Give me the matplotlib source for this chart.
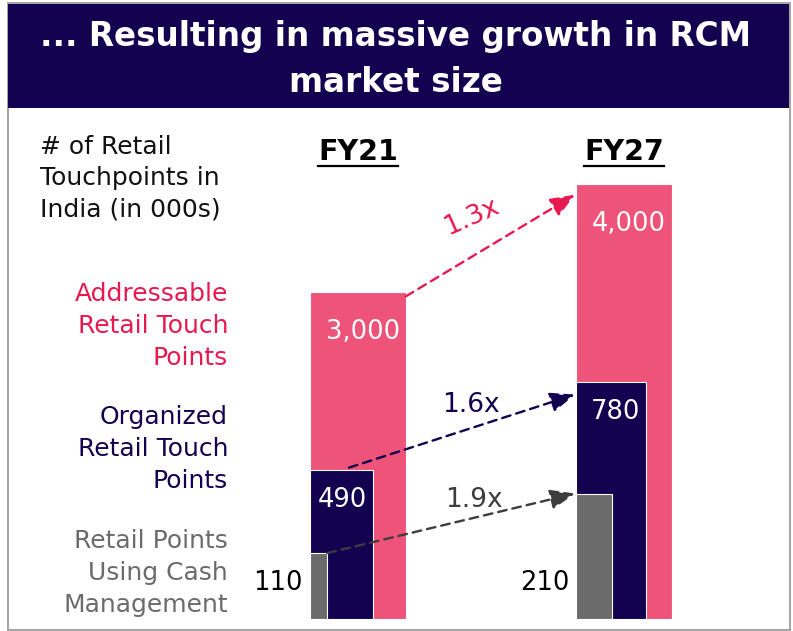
import matplotlib.pyplot as plt
from matplotlib.patches import Rectangle
from matplotlib.lines import Line2D
from matplotlib.transforms import ScaledTranslation

# data
years = ['FY21', 'FY27']
addressable = [3000, 4000]
organized = [490, 780]
cash_mgmt = [110, 210]
growth = ['1.3x', '1.6x', '1.9x']
series_names = ['Addressable\nRetail Touch\nPoints',
                'Organized\nRetail Touch\nPoints',
                'Retail Points\nUsing Cash\nManagement']

pink = '#EE5479'
red = '#E8194F'
navy = '#13024F'
grey = '#6B6B6B'
dark = '#3D3D3D'

W, H = 793, 631
plt.rcParams['font.family'] = ['DejaVu Sans']
fig = plt.figure(figsize=(W / 100, H / 100), dpi=100)


def fx(px):
    return px / W


def fy(py):
    return 1 - py / H


def shifted(a, dx, dy):
    # data coords moved by dx, dy pixels (dy downwards)
    return a.transData + ScaledTranslation(dx / 100, -dy / 100, fig.dpi_scale_trans)


# frame + title band
fig.add_artist(Rectangle((fx(7.5), fy(630)), fx(789.5) - fx(7.5), fy(3) - fy(630),
                         transform=fig.transFigure, fill=False, ec='#a6a6a6', lw=1.5))
fig.add_artist(Rectangle((fx(8), fy(108)), fx(789) - fx(8), fy(4) - fy(108),
                         transform=fig.transFigure, fc=navy, ec='none'))
# multi-line texts: baseline alignment uses the last line
fig.text(fx(396), fy(91.7), '... Resulting in massive growth in RCM\nmarket size',
         color='white', fontsize=23.5, fontweight='bold', ha='center', va='baseline',
         linespacing=1.47)

# left side labels
fig.text(fx(40), fy(216.7), '# of Retail\nTouchpoints in\nIndia (in 000s)',
         fontsize=18, ha='left', va='baseline', linespacing=1.4, color='#111111')
for name, col, yb in zip(series_names, [red, navy, grey], [365, 488, 611.7]):
    fig.text(fx(228), fy(yb), name, color=col, fontsize=18, ha='right',
             va='baseline', linespacing=1.42, multialignment='right')

# bars: one scale per series, all sharing the baseline
ax = fig.add_axes([fx(240), fy(618.5), fx(785) - fx(240), fy(130) - fy(618.5)])
ax_org = ax.twinx()
ax_cash = ax.twinx()
x = [0, 1]
ax.set_xlim((240 - 310) / 266, (785 - 310) / 266)
ax.set_ylim(0, 4494)
ax_org.set_ylim(0, 1608)
ax_cash.set_ylim(0, 821)
for a in (ax, ax_org, ax_cash):
    a.axis('off')

w_pink = [0.36, 0.36]
w_org = [0.236, 0.264]
w_cash = [0.065, 0.136]
ax.bar(x, addressable, width=w_pink, align='edge', color=pink, ec='white', lw=0.8)
ax_org.bar(x, organized, width=w_org, align='edge', color=navy, ec='white', lw=0.8)
ax_cash.bar(x, cash_mgmt, width=w_cash, align='edge', color=grey, ec='white', lw=0.8)

for xi, w, v in zip(x, w_pink, addressable):
    ax.text(xi + w, v, f'{v:,}', transform=shifted(ax, -6, 47), ha='right',
            va='baseline', color='white', fontsize=18.5)
for xi, w, v in zip(x, w_org, organized):
    ax_org.text(xi + w, v, f'{v:,}', transform=shifted(ax_org, -6, 37), ha='right',
                va='baseline', color='white', fontsize=18.5)
for xi, v in zip(x, cash_mgmt):
    ax_cash.text(xi, 0, f'{v:,}', transform=shifted(ax_cash, -7, -28), ha='right',
                 va='baseline', color='black', fontsize=18.5)

# growth arrows
arrow_kw = dict(arrowstyle='-|>,head_length=1.5,head_width=0.6', mutation_scale=10,
                lw=1.7, linestyle=(0, (3.7, 2.5)), shrinkA=0, shrinkB=0)
ax.annotate('', xy=(x[1], addressable[1]), xycoords=shifted(ax, -1, 11),
            xytext=(x[0] + w_pink[0], addressable[0]), textcoords=shifted(ax, 0, 4),
            arrowprops=dict(color=red, **arrow_kw))
ax_org.annotate('', xy=(x[1], organized[1]), xycoords=shifted(ax_org, -1, 13),
                xytext=(x[0], organized[0]), textcoords=shifted(ax_org, 39, -2),
                arrowprops=dict(color=navy, **arrow_kw))
ax_cash.annotate('', xy=(x[1], cash_mgmt[1]), xycoords=shifted(ax_cash, -1, 0),
                 xytext=(x[0] + w_cash[0], cash_mgmt[0]), textcoords=shifted(ax_cash, 0, 0),
                 arrowprops=dict(color=dark, **arrow_kw))

fig.text(fx(471.7), fy(216.7), growth[0], color=red, fontsize=19, rotation=24,
         rotation_mode='anchor', ha='center', va='center')
fig.text(fx(470.5), fy(411.7), growth[1], color=navy, fontsize=19, ha='center', va='baseline')
fig.text(fx(474), fy(506.7), growth[2], color=dark, fontsize=19, ha='center', va='baseline')

# year headers, underlined
renderer = fig.canvas.get_renderer()
for xi, w, yr in zip(x, w_pink, years):
    t = ax.annotate(yr, xy=(xi + w / 2, fy(160)), xycoords=('data', 'figure fraction'),
                    ha='center', va='baseline', fontsize=20.5, fontweight='bold')
    bb = t.get_window_extent(renderer)
    fig.add_artist(Line2D([bb.x0 / W, bb.x1 / W], [fy(165.5), fy(165.5)],
                          transform=fig.transFigure, color='black', lw=1.6))

fig.savefig('out.png', dpi=100)
